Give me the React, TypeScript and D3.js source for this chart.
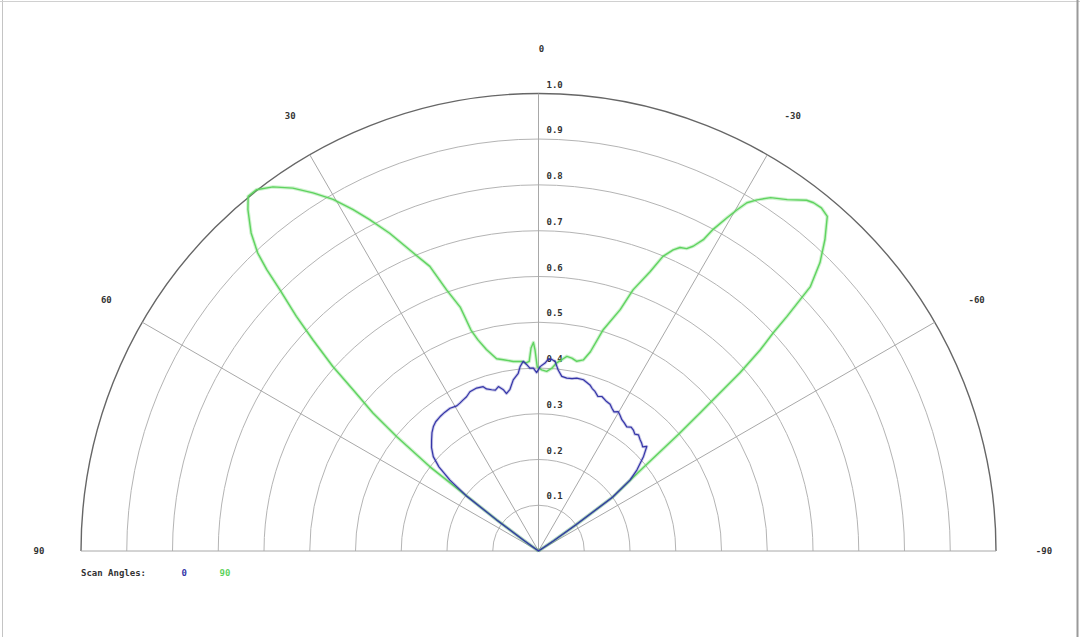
import * as d3 from 'd3';

// ─── Data ───────────────────────────────────────────────────

const ringTicks = [0.1, 0.2, 0.3, 0.4, 0.5, 0.6, 0.7, 0.8, 0.9, 1.0];
const spokeAngles = [90, 60, 30, 0, -30, -60, -90];
const scanAngles = ['0', '90'];

// scan angle 0 (blue): angle in degrees (positive = left), normalized radius
const blueAngles = [
  -90, -60, -56, -55, -54, -52.2, -50.5, -48, -46, -45, -43.8, -42.2, -40.7, -39.5, -38.1, -36.8,
  -35.4, -33.8, -32.4, -31, -29.8, -28.5, -27.2, -26, -24.5, -22.3, -21, -19.5, -18.3, -17.2,
  -14.7, -12.5, -11, -9.3, -7.6, -6.2, -5, -3.9, -2.9, -2, -0.5, 0.6, 1.6, 2.7, 3.6, 4.6, 5.7,
  6.5, 8.4, 10, 11.5, 12.3, 13.7, 15, 16.2, 17.8, 18.6, 20.8, 23.3, 25, 26.5, 28, 29.4, 31.8,
  34, 36.3, 38.5, 40.2, 42, 43.9, 46, 48.1, 49.8, 51.3, 52.6, 53.4, 54.1, 56, 90,
];
const blueRadii = [
  0, 0, 0.04, 0.1, 0.2, 0.253, 0.279, 0.309, 0.329, 0.322, 0.326, 0.33, 0.335, 0.331, 0.336, 0.338,
  0.333, 0.337, 0.34, 0.346, 0.351, 0.346, 0.351, 0.357, 0.359, 0.365, 0.362, 0.37, 0.374, 0.38,
  0.387, 0.387, 0.384, 0.383, 0.385, 0.398, 0.416, 0.42, 0.42, 0.411, 0.403, 0.39, 0.4, 0.4, 0.408,
  0.416, 0.405, 0.391, 0.378, 0.359, 0.351, 0.361, 0.37, 0.364, 0.367, 0.372, 0.379, 0.381, 0.379,
  0.372, 0.369, 0.366, 0.364, 0.367, 0.366, 0.364, 0.361, 0.356, 0.348, 0.337, 0.325, 0.309, 0.285,
  0.248, 0.2, 0.114, 0.041, 0, 0,
];

// scan angle 90 (green)
const greenAngles = [
  -90, -60, -56, -55, -54, -51.5, -50.2, -49.5, -49.1, -48.5, -47.8, -47.1, -46.65, -45.8, -44.3,
  -42.6, -40.8, -39.5, -38.3, -37.4, -35.3, -33.3, -31.9, -30.9, -30.2, -29.5, -28.5, -27.9, -26.9,
  -26.1, -25, -24.1, -22.9, -21.8, -19.9, -18.7, -16.3, -14.6, -13.2, -11.4, -9.8, -8.3, -6.9, -5.5,
  -4.1, -2.6, -1, 0.4, 1, 1.4, 2.1, 2.8, 3.8, 5.1, 7.6, 10.4, 12.3, 14.5, 16, 17, 17.8, 19.4, 20.9,
  22.8, 25.1, 27, 28.5, 30.3, 32.2, 34.1, 36.1, 38, 39.3, 40.4, 42.1, 43.3, 44, 44.7, 45.9, 46.9,
  48.1, 49, 50.2, 51.1, 52.2, 52.5, 53.4, 54.1, 56, 90,
];
const greenRadii = [
  0, 0, 0.04, 0.1, 0.2, 0.29, 0.4, 0.465, 0.505, 0.588, 0.654, 0.7, 0.747, 0.829, 0.881,
  0.925, 0.966, 0.972, 0.97, 0.965, 0.941, 0.924, 0.904, 0.887, 0.863, 0.837, 0.8, 0.77, 0.747,
  0.736, 0.732, 0.721, 0.699, 0.658, 0.607, 0.557, 0.504, 0.45, 0.429, 0.423, 0.428, 0.43, 0.421,
  0.413, 0.4, 0.393, 0.396, 0.403, 0.44, 0.456, 0.444, 0.415, 0.412, 0.416, 0.418, 0.425, 0.43,
  0.455, 0.48, 0.505, 0.56, 0.605, 0.666, 0.707, 0.767, 0.813, 0.849, 0.89, 0.925, 0.958, 0.985,
  1.002, 1.002, 0.98, 0.937, 0.895, 0.855, 0.804, 0.737, 0.675, 0.604, 0.537, 0.471, 0.398, 0.301,
  0.207, 0.114, 0.041, 0, 0,
];

const blueColor = '#3535a8';
const greenColor = '#5fd35f';

// ─── Component ──────────────────────────────────────────────

export default function App() {
  const width = 1080;
  const height = 637;
  const cx = 538.5;
  const cy = 551;
  const R = 457.5;

  const r = d3.scaleLinear().domain([0, 1]).range([0, R]);
  const toRad = (deg: number) => (-deg * Math.PI) / 180;

  const polar = (deg: number, rad: number) => [
    cx - rad * Math.sin((deg * Math.PI) / 180),
    cy - rad * Math.cos((deg * Math.PI) / 180),
  ];

  const ringPath = (v: number) => {
    const p = d3.path();
    p.moveTo(cx - r(v), cy);
    p.arc(cx, cy, r(v), Math.PI, 2 * Math.PI);
    return p.toString();
  };

  const radial = d3
    .lineRadial<[number, number]>()
    .angle((d) => toRad(d[0]))
    .radius((d) => r(d[1]));

  const blueData = blueAngles.map((a, i) => [a, blueRadii[i]] as [number, number]);
  const greenData = greenAngles.map((a, i) => [a, greenRadii[i]] as [number, number]);

  const font = '"DejaVu Sans Mono", monospace';

  return (
    <div style={{ position: 'absolute', left: 0, top: 0 }}>
      <svg width={width} height={height} style={{ display: 'block', background: '#fff' }}>
        {/* frame */}
        <line x1={2.5} y1={0} x2={2.5} y2={height} stroke="#c4c4c4" strokeWidth={1} />
        <line x1={0} y1={1.5} x2={width} y2={1.5} stroke="#d0d0d0" strokeWidth={1} />
        <line x1={1077.5} y1={0} x2={1077.5} y2={height} stroke="#9a9a9a" strokeWidth={2} />

        {/* rings */}
        {ringTicks.map((v) => (
          <path
            key={v}
            d={ringPath(v)}
            fill="none"
            stroke={v === 1 ? '#666' : '#b4b4b4'}
            strokeWidth={v === 1 ? 1.4 : 1}
          />
        ))}

        {/* spokes */}
        {spokeAngles.map((a) => {
          const [x, y] = polar(a, R);
          return (
            <line key={a} x1={cx} y1={cy} x2={x} y2={y} stroke="#a8a8a8" strokeWidth={1} />
          );
        })}

        {/* radial tick labels */}
        {ringTicks.map((v) => (
          <text
            key={v}
            x={cx + 8}
            y={cy - r(v) - 6}
            fontFamily={font}
            fontSize={9}
            fontWeight="bold"
            fill="#333"
          >
            {v.toFixed(1)}
          </text>
        ))}

        {/* angle labels */}
        {spokeAngles.map((a) => {
          const [x, y] = polar(a, R + 45);
          return (
            <text
              key={a}
              x={x + 3}
              y={y}
              dy="0.35em"
              textAnchor="middle"
              fontFamily={font}
              fontSize={9}
              fontWeight="bold"
              fill="#333"
            >
              {a}
            </text>
          );
        })}

        {/* series */}
        <g transform={`translate(${cx},${cy})`} fill="none" strokeLinejoin="round">
          <path d={radial(greenData) ?? ''} stroke={greenColor} strokeOpacity={0.3} strokeWidth={3.5} />
          <path d={radial(greenData) ?? ''} stroke={greenColor} strokeWidth={1.4} />
          <path d={radial(blueData) ?? ''} stroke={blueColor} strokeOpacity={0.25} strokeWidth={3} />
          <path d={radial(blueData) ?? ''} stroke={blueColor} strokeWidth={1.2} />
        </g>

        {/* legend */}
        <text x={81} y={576} fontFamily={font} fontSize={9} fontWeight="bold" fill="#333">
          Scan Angles:
        </text>
        <text x={181.5} y={576} fontFamily={font} fontSize={9} fontWeight="bold" fill={blueColor}>
          {scanAngles[0]}
        </text>
        <text x={219.5} y={576} fontFamily={font} fontSize={9} fontWeight="bold" fill={greenColor}>
          {scanAngles[1]}
        </text>
      </svg>
    </div>
  );
}
